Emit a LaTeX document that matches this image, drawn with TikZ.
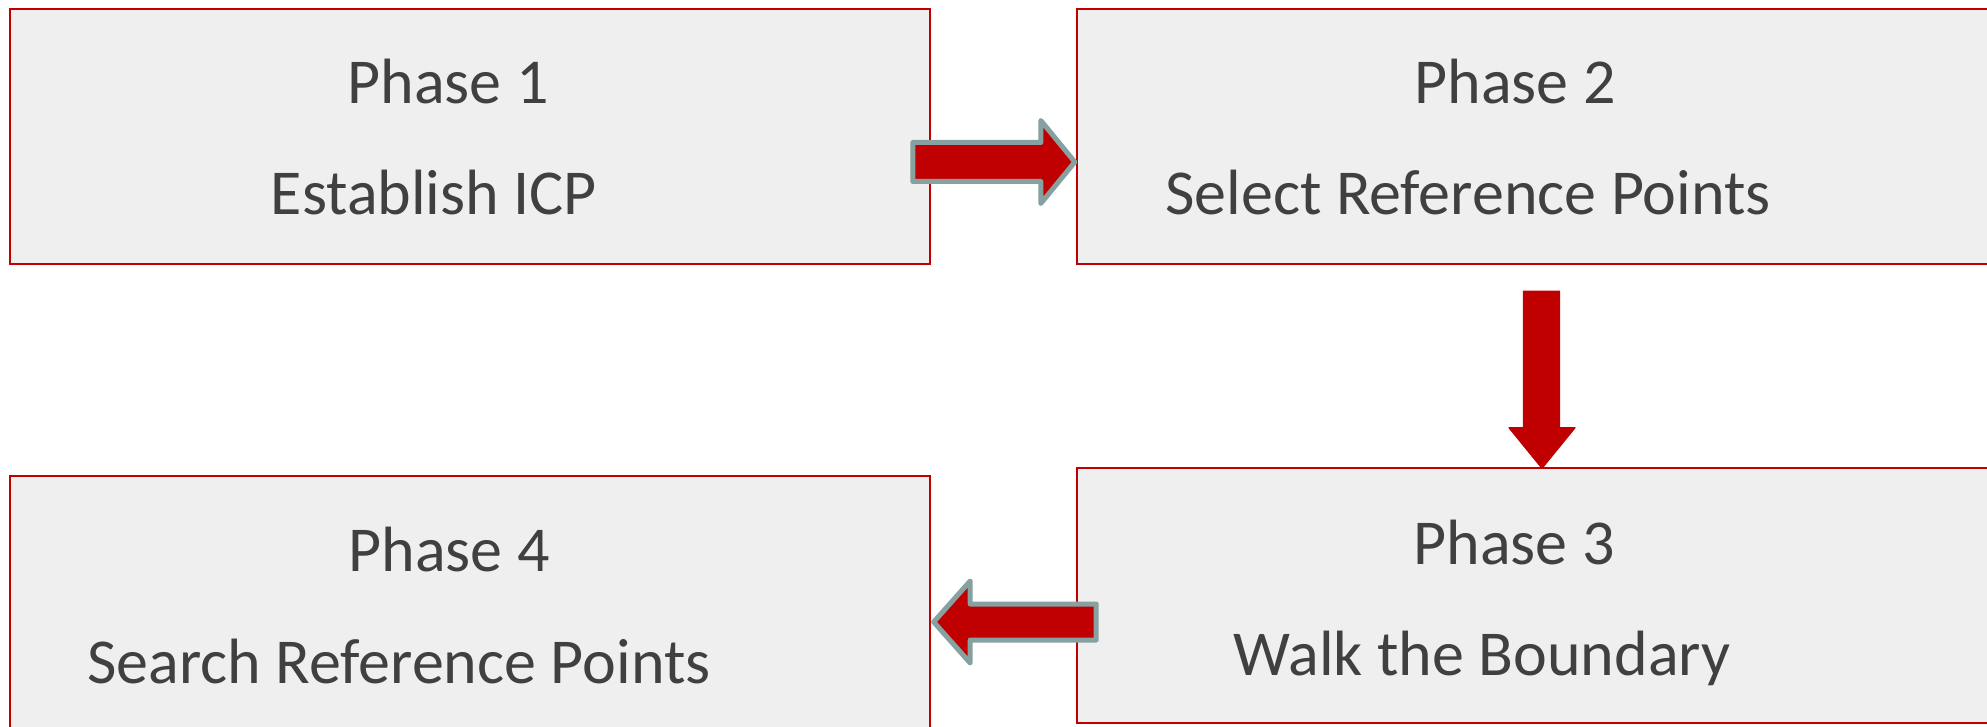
\documentclass[tikz,border=0pt]{standalone}
\usepackage{fontspec}
\setmainfont{Carlito}
\usetikzlibrary{calc}

\definecolor{boxred}{HTML}{C00000}
\definecolor{boxfill}{HTML}{EFEFEF}
\definecolor{textgray}{HTML}{404040}
\definecolor{rimgray}{HTML}{87A0A0}

\tikzset{
    phasebox/.style={draw=boxred, line width=1.2pt, fill=boxfill,
        minimum width=460pt, minimum height=127.5pt, inner sep=0pt},
    phasetext/.style={anchor=base, text=textgray, inner sep=0pt,
        font=\fontsize{32}{38}\selectfont},
    flowarrow/.style={fill=boxred, draw=rimgray, line width=2.5pt, line join=round},
    downarrow/.style={fill=boxred, draw=boxred, line width=0.6pt, line join=round}
}

\begin{document}
\begin{tikzpicture}[x=0.5pt,y=-0.5pt]
    % page frame
        \clip (0,0) rectangle (1987,727);
        \fill[white] (0,0) rectangle (1987,727);

    % phase boxes
        \node[phasebox] (p1) at (470,136.5) {};
        \node[phasebox] (p2) at (1537,136.5) {};
        \node[phasebox] (p3) at (1537,595.5) {};
        \node[phasebox] (p4) at (470,603.5) {};

    % box texts
        \node[phasetext] (p1title) at (448,104) {Phase 1};
        \node[phasetext] (p1text) at (434,215) {Establish ICP};
        \node[phasetext] (p2title) at (1515,104) {Phase 2};
        \node[phasetext] (p2text) at (1468,215) {Select Reference Points};
        \node[phasetext] (p3title) at (1514,564) {Phase 3};
        \node[phasetext] (p3text) at (1482,675) {Walk the Boundary};
        \node[phasetext] (p4title) at (449,571) {Phase 4};
        \node[phasetext] (p4text) at (399,683) {Search Reference Points};

    % arrow from phase 1 to phase 2
    \begin{scope}[shift={(p2.west)}]
        \draw[flowarrow] (-163,6) -- (-35,6) -- (-35,-16) -- (-1,25.5)
            -- (-35,67) -- (-35,45) -- (-163,45) -- cycle;
    \end{scope}

    % arrow from phase 2 to phase 3
    \begin{scope}[shift={(p3.north)}]
        \draw[downarrow] (-13.5,-175.5) -- (22.5,-175.5) -- (22.5,-39) -- (38,-39)
            -- (5,1.5) -- (-28,-39) -- (-13.5,-39) -- cycle;
    \end{scope}

    % arrow from phase 3 to phase 4
    \begin{scope}[shift={(p4.east)}]
        \draw[flowarrow] (165,0.5) -- (39,0.5) -- (39,-22.5) -- (2.5,18.5)
            -- (39,59.5) -- (39,36.5) -- (165,36.5) -- cycle;
    \end{scope}

    \end{tikzpicture}
\end{document}
